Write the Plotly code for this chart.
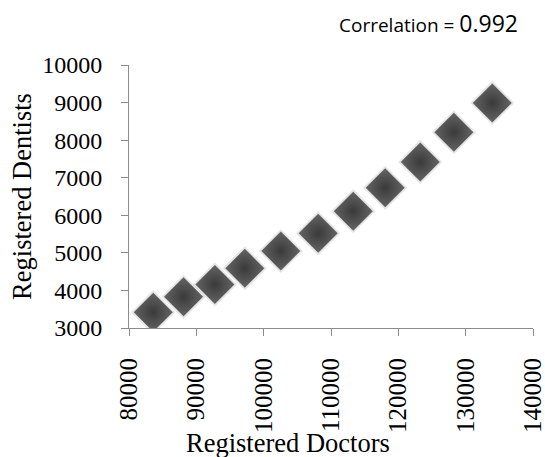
import plotly.graph_objects as go

doctors = [83600, 88100, 92750, 97200, 102550, 108100, 113300, 118050, 123250, 128250, 133950]
dentists = [3420, 3830, 4160, 4590, 5050, 5520, 6110, 6730, 7420, 8210, 8990]
x_ticks = [80000, 90000, 100000, 110000, 120000, 130000, 140000]
y_ticks = [3000, 4000, 5000, 6000, 7000, 8000, 9000, 10000]
correlation_label = "0.992"

serif = "Liberation Serif, Times New Roman, serif"

fig = go.Figure()
# soft shadow
fig.add_trace(go.Scatter(
    x=doctors, y=dentists, mode="markers", hoverinfo="skip",
    marker=dict(symbol="diamond", size=34, color="rgba(0,0,0,0.10)", line=dict(width=0)),
    showlegend=False,
))
fig.add_trace(go.Scatter(
    x=doctors, y=dentists, mode="markers",
    marker=dict(symbol="diamond", size=30, color="#646464",
                gradient=dict(type="radial", color="#3a3a3a"),
                line=dict(width=0)),
    showlegend=False,
))

axis_common = dict(
    showgrid=False, zeroline=False, showline=True, linecolor="#8c8c8c", linewidth=1,
    ticks="outside", ticklen=7, tickcolor="#8c8c8c", tickwidth=1,
    automargin=False, ticklabeloverflow="allow",
)

fig.update_xaxes(range=[80000, 140000], tickvals=x_ticks, ticktext=[str(v) for v in x_ticks],
                 tickangle=-90, ticklabelstandoff=12,
                 tickfont=dict(family=serif, size=25, color="black"),
                 **axis_common)
fig.update_yaxes(range=[3000, 10000], tickvals=y_ticks, ticktext=[str(v) for v in y_ticks],
                 ticklabelstandoff=14,
                 tickfont=dict(family=serif, size=24, color="black"),
                 title=dict(text="Registered Dentists", font=dict(family=serif, size=26.5, color="black"), standoff=2),
                 **axis_common)

# x-axis title (offset left as in the reference)
fig.add_annotation(
    xref="paper", yref="paper", x=0.394, y=-0.437, xanchor="center", yanchor="middle",
    text="Registered Doctors", showarrow=False,
    font=dict(family=serif, size=26.5, color="black"),
)

fig.add_annotation(
    xref="paper", yref="paper", x=0.968, y=1.16, xanchor="right", yanchor="middle",
    text="<span style='font-size:19px'>Correlation = </span><span style='font-size:23px'>" + correlation_label + "</span>",
    showarrow=False, font=dict(family="Open Sans, Liberation Sans, sans-serif", color="black"),
)

fig.update_layout(
    width=545, height=457,
    margin=dict(l=129, r=12, t=65, b=129),
    paper_bgcolor="white", plot_bgcolor="white",
)

fig.write_html("out.html")
